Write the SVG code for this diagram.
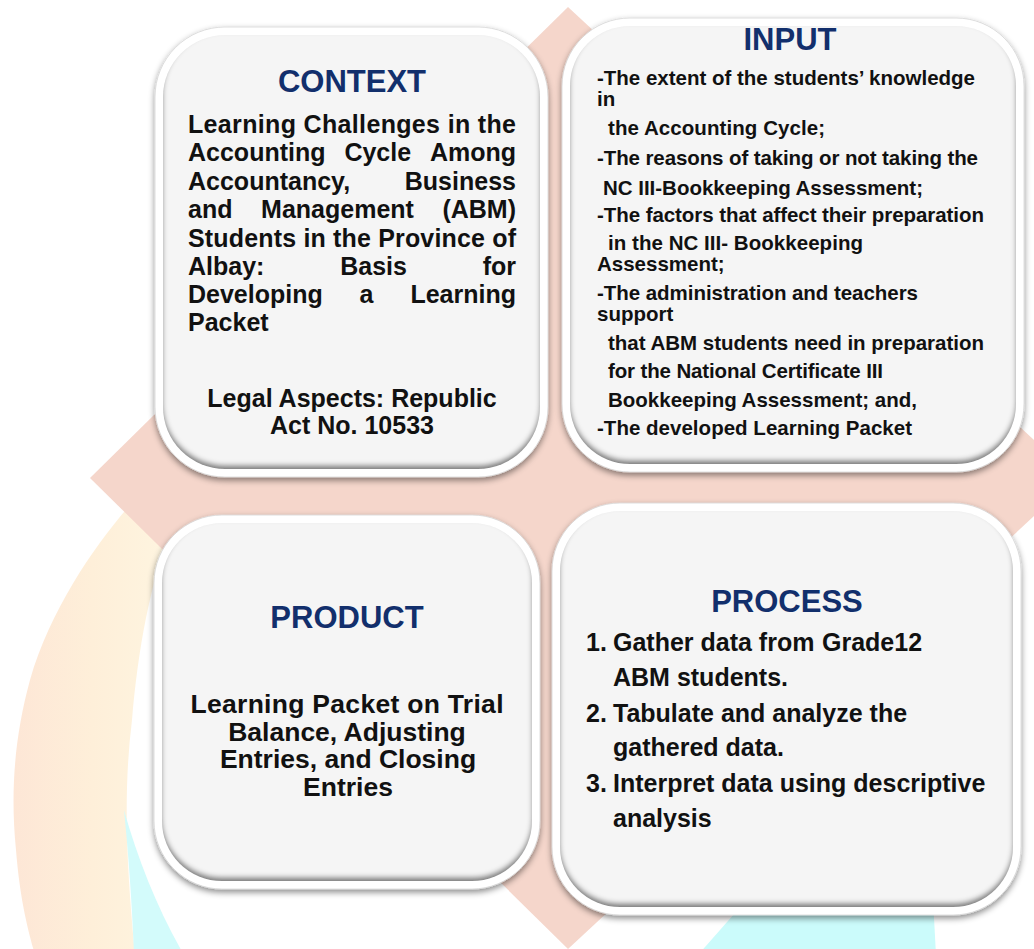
<svg xmlns="http://www.w3.org/2000/svg" width="1034" height="949" viewBox="0 0 1034 949">
  <defs>
    <style>
      .title { font-family: "Liberation Sans", Arial, sans-serif; font-weight: bold; font-size: 31px; fill: #122f6c; text-anchor: middle; }
      .txt { font-family: "Liberation Sans", Arial, sans-serif; font-weight: bold; font-size: 25px; fill: #111111; }
      .mid { text-anchor: middle; }
      .inp { font-size: 20.5px; }
      .prod { font-size: 26.5px; text-anchor: middle; }
      .rim { fill: #ffffff; stroke: #d6d6d6; stroke-width: 0.8; filter: url(#drop); }
      .face { fill: #f5f5f5; filter: url(#inset); }
    </style>
    <!-- soft shadow cast by each rounded panel -->
    <filter id="drop" x="-6%" y="-6%" width="112%" height="116%">
      <feGaussianBlur in="SourceAlpha" stdDeviation="3"/>
      <feOffset dy="3" result="b"/>
      <feFlood flood-color="#000000" flood-opacity="0.45"/>
      <feComposite in2="b" operator="in"/>
      <feMerge><feMergeNode/><feMergeNode in="SourceGraphic"/></feMerge>
    </filter>
    <!-- inner bevel: darker edge along the bottom of the face -->
    <filter id="inset" x="-5%" y="-5%" width="110%" height="110%">
      <feOffset in="SourceAlpha" dy="-4" result="up"/>
      <feGaussianBlur in="up" stdDeviation="2.5" result="upb"/>
      <feComposite in="SourceAlpha" in2="upb" operator="out" result="edge"/>
      <feFlood flood-color="#555555" flood-opacity="0.85"/>
      <feComposite in2="edge" operator="in" result="shade"/>
      <feMerge><feMergeNode in="SourceGraphic"/><feMergeNode in="shade"/></feMerge>
    </filter>
    <linearGradient id="peach" x1="10" y1="0" x2="160" y2="0" gradientUnits="userSpaceOnUse">
      <stop offset="0" stop-color="#fde6d6"/>
      <stop offset="0.55" stop-color="#feefd9"/>
      <stop offset="1" stop-color="#fef4df"/>
    </linearGradient>
  </defs>

  <rect width="1034" height="949" fill="#ffffff"/>

  <!-- background decoration -->
  <g id="background">
    <path d="M130,505 C95,545 50,610 30,680 C15,735 10,790 16,850 C20,900 28,930 35,955 L135,955 C128,880 122,800 132,720 C138,650 150,580 175,520 Z" fill="url(#peach)"/>
    <path d="M124,810 C138,860 158,910 184,955 L134,955 C132,900 128,850 124,810 Z" fill="#d3fbfb"/>
    <polygon points="764,880 932,880 936,955 698,955" fill="#cbfbfb"/>
    <polygon points="568,7 1075,478 568,949 90,478" fill="#f5d6cb"/>
  </g>

  <!-- CONTEXT -->
  <g id="node-context">
    <rect class="rim" x="155" y="27" width="393" height="450" rx="70"/>
    <rect class="face" x="163" y="35" width="377" height="434" rx="62"/>
    <text class="title" x="352" y="92">CONTEXT</text>
    <text class="txt" x="188" y="133" textLength="328" lengthAdjust="spacing">Learning Challenges in the</text>
    <text class="txt" y="161"><tspan x="188">Accounting</tspan><tspan x="344.4">Cycle</tspan><tspan x="430">Among</tspan></text>
    <text class="txt" y="189.5"><tspan x="188">Accountancy,</tspan><tspan x="404.8">Business</tspan></text>
    <text class="txt" y="218"><tspan x="188">and</tspan><tspan x="261.1">Management</tspan><tspan x="442.4">(ABM)</tspan></text>
    <text class="txt" x="188" y="246.5" textLength="328" lengthAdjust="spacing">Students in the Province of</text>
    <text class="txt" y="275"><tspan x="188">Albay:</tspan><tspan x="340.2">Basis</tspan><tspan x="482.7">for</tspan></text>
    <text class="txt" y="303"><tspan x="188">Developing</tspan><tspan x="359.6">a</tspan><tspan x="410.4">Learning</tspan></text>
    <text class="txt" x="188" y="331">Packet</text>
    <text class="txt mid" x="352" y="407">Legal Aspects: Republic</text>
    <text class="txt mid" x="352" y="434">Act No. 10533</text>
  </g>

  <!-- INPUT -->
  <g id="node-input">
    <rect class="rim" x="562" y="18" width="462" height="454" rx="68"/>
    <rect class="face" x="570" y="26" width="446" height="438" rx="60"/>
    <text class="title" x="790" y="50">INPUT</text>
    <text class="txt inp" x="597" y="85" textLength="378" lengthAdjust="spacing">-The extent of the students’ knowledge</text>
    <text class="txt inp" x="597" y="106">in</text>
    <text class="txt inp" x="608" y="135" textLength="217" lengthAdjust="spacing">the Accounting Cycle;</text>
    <text class="txt inp" x="597" y="165" textLength="381" lengthAdjust="spacing">-The reasons of taking or not taking the</text>
    <text class="txt inp" x="603" y="195" textLength="320" lengthAdjust="spacing">NC III-Bookkeeping Assessment;</text>
    <text class="txt inp" x="597" y="222" textLength="387" lengthAdjust="spacing">-The factors that affect their preparation</text>
    <text class="txt inp" x="608" y="250" textLength="255" lengthAdjust="spacing">in the NC III- Bookkeeping</text>
    <text class="txt inp" x="597" y="271">Assessment;</text>
    <text class="txt inp" x="597" y="300" textLength="321" lengthAdjust="spacing">-The administration and teachers</text>
    <text class="txt inp" x="597" y="321">support</text>
    <text class="txt inp" x="608" y="350" textLength="376" lengthAdjust="spacing">that ABM students need in preparation</text>
    <text class="txt inp" x="608" y="378" textLength="275" lengthAdjust="spacing">for the National Certificate III</text>
    <text class="txt inp" x="608" y="407" textLength="309" lengthAdjust="spacing">Bookkeeping Assessment; and,</text>
    <text class="txt inp" x="597" y="435" textLength="315" lengthAdjust="spacing">-The developed Learning Packet</text>
  </g>

  <!-- PRODUCT -->
  <g id="node-product">
    <rect class="rim" x="154" y="515" width="386" height="374" rx="68"/>
    <rect class="face" x="162" y="523" width="370" height="358" rx="60"/>
    <text class="title" x="347" y="628">PRODUCT</text>
    <text class="txt prod" x="347" y="713" textLength="313" lengthAdjust="spacing">Learning Packet on Trial</text>
    <text class="txt prod" x="347" y="741">Balance, Adjusting</text>
    <text class="txt prod" x="348" y="768">Entries, and Closing</text>
    <text class="txt prod" x="348" y="796">Entries</text>
  </g>

  <!-- PROCESS -->
  <g id="node-process">
    <rect class="rim" x="552" y="503" width="469" height="412" rx="68"/>
    <rect class="face" x="560" y="511" width="453" height="396" rx="60"/>
    <text class="title" x="787" y="612">PROCESS</text>
    <text class="txt" x="586" y="651">1.</text>
    <text class="txt" y="651"><tspan x="613">Gather data from</tspan><tspan x="822">Grade12</tspan></text>
    <text class="txt" x="613" y="686">ABM students.</text>
    <text class="txt" x="586" y="722">2.</text>
    <text class="txt" x="613" y="722">Tabulate and analyze the</text>
    <text class="txt" x="613" y="756">gathered data.</text>
    <text class="txt" x="586" y="792">3.</text>
    <text class="txt" x="613" y="792">Interpret data using descriptive</text>
    <text class="txt" x="613" y="827">analysis</text>
  </g>
</svg>
